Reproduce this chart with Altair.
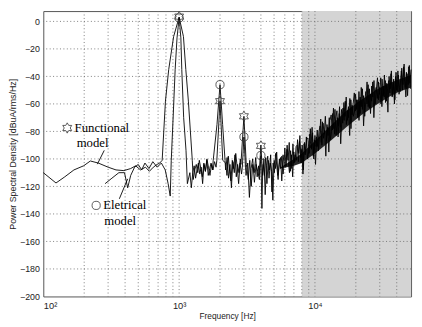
import altair as alt
import pandas as pd
import numpy as np

HEX = ("M0,-1L0.289,-0.5L0.866,-0.5L0.577,0L0.866,0.5L0.289,0.5L0,1L-0.289,0.5"
       "L-0.866,0.5L-0.577,0L-0.866,-0.5L-0.289,-0.5Z")

# ---------------- Functional model ----------------
func_low_f = [100, 124, 144, 168, 198, 222, 254, 300, 343, 392, 440, 478, 520, 565, 604,
              646, 688, 720, 750, 793, 838, 911, 1000, 1076, 1120, 1170, 1250]
func_low_v = [-110, -117.5, -113, -108, -105, -101.5, -103, -106, -108, -108.5, -107, -105,
              -108, -106, -109, -106, -104, -103, -101, -58, -35, -11, 3, -11, -35, -58, -101]
func_peak_f = [1895, 2000, 2094, 2850, 3000, 3120, 3880, 4000, 4120]
func_peak_v = [-101, -58, -101, -104, -69, -104, -112, -90, -112]
func_seg_ranges = [(1270, 1870), (2200, 2820), (3150, 3850), (4160, 5950), (6000, 51000)]
func_seg_vals = [
    [-115, -108, -104, -110, -101, -107, -113, -103, -109, -100, -106, -112, -104, -108, -102, -106],
    [-103, -112, -98, -109, -116, -101, -107, -97, -113, -104, -110, -100],
    [-106, -115, -101, -120, -104, -110, -99, -113, -105],
    [-104, -112, -99, -118, -101, -108, -97, -124, -103, -110, -96, -106, -115, -100, -107, -98, -111, -102],
    [-92, -105, -90, -102, -110, -94, -107, -89, -103, -97,
     -101, -86, -96, -83, -103, -90, -108, -88, -95, -85,
     -85, -96, -78, -93, -81, -100, -83, -91, -79, -94,
     -84, -71, -90, -74, -82, -69, -87, -77, -95, -72,
     -68, -79, -63, -82, -71, -65, -84, -67, -77, -64,
     -74, -59, -69, -55, -72, -62, -83, -57, -68, -60,
     -52, -65, -57, -70, -51, -67, -48, -64, -54, -69,
     -57, -44, -62, -49, -67, -47, -55, -43, -60, -50,
     -41, -57, -48, -60, -42, -54, -39, -59, -45, -66,
     -40, -49, -36, -54, -42, -57, -37, -51, -39, -48,
     -51, -34, -46, -31, -48, -37, -54, -33, -45, -35],
]

# ---------------- Electrical model ----------------
elec_low_f = [285, 320, 360, 396, 418, 440, 470, 500, 530, 560, 600, 640, 690, 740, 790,
              830, 860, 875, 905, 935, 965, 1000, 1030, 1046, 1080, 1124, 1150, 1200]
elec_low_v = [-118, -114, -110, -110, -121, -112, -106, -104, -108, -103, -107, -102, -106,
              -103, -108, -118, -127, -101, -68, -35, -12, 3, -12, -35, -70, -94, -118, -110]
elec_peak_f = [1782, 1900, 2000, 2090, 2178, 2920, 3000, 3080, 3930, 4000, 4070]
elec_peak_v = [-101, -75, -46, -75, -101, -106, -84, -106, -110, -98, -136]
elec_seg_ranges = [(1230, 1760), (2200, 2880), (3110, 3900), (4120, 5950), (6100, 50500)]
elec_seg_vals = [
    [-121, -110, -105, -114, -108, -103, -111, -106, -118, -104, -109, -101, -112, -107, -103, -108],
    [-108, -99, -114, -104, -121, -102, -110, -96, -106, -118, -103, -111],
    [-112, -103, -128, -107, -100, -117, -104, -109, -115],
    [-110, -100, -126, -105, -98, -114, -103, -109, -130, -101, -107, -95, -112, -104, -99, -116, -97, -105],
    [-106, -93, -101, -88, -109, -97, -113, -95, -102, -91,
     -90, -102, -87, -99, -93, -111, -89, -97, -84, -100,
     -95, -82, -92, -77, -98, -86, -104, -84, -91, -80,
     -76, -88, -73, -85, -79, -98, -75, -83, -70, -86,
     -80, -67, -78, -64, -83, -70, -76, -62, -89, -71,
     -63, -72, -58, -75, -65, -70, -56, -78, -61, -69,
     -66, -53, -64, -57, -72, -55, -62, -49, -76, -58,
     -51, -60, -46, -63, -53, -58, -44, -70, -52, -48,
     -56, -44, -53, -41, -62, -47, -55, -43, -58, -49,
     -43, -52, -38, -55, -45, -60, -40, -50, -36, -53,
     -47, -36, -50, -33, -44, -55, -38, -46, -32, -49],
]

# dense core of the noise band (where the two traces overlap into solid black)
core_f = [5600, 7000, 8000, 10000, 13000, 17000, 22000, 28000, 35000, 42000, 51000]
core_hi = [-106, -100, -96, -87, -76, -65, -57, -50, -45, -42, -39]
core_lo = [-107, -105, -103, -96, -87, -77, -68, -61, -55, -51, -48]

# markers at harmonics
star_f = [1000, 2000, 3000, 4000]
star_v = [3.5, -58, -69, -90.5]
circ_f = [1000, 2000, 3000, 4000]
circ_v = [2.5, -46, -84, -97.5]

# annotations
ann_text = ["Functional", "model", "Eletrical", "model"]
ann_f = [170, 176, 276, 281]
ann_v = [-77.5, -88.5, -133.8, -145]
ann_star_f, ann_star_v = [150], [-77.5]
ann_circ_f, ann_circ_v = [245], [-133.8]
ptr_f1 = [281, 363]
ptr_v1 = [-93.8, -129]
ptr_f2 = [250, 418]
ptr_v2 = [-103.8, -114.5]

# shaded band and grid
band_f1, band_f2 = [8000], [51000]
xgrid = [200, 300, 400, 500, 600, 700, 800, 900, 1000, 2000, 3000, 4000, 5000, 6000,
         7000, 8000, 9000, 10000, 20000, 30000, 40000]
ygrid = list(range(-180, 1, 20))
xticks = [100, 1000, 10000]


def build(name, lf, lv, pf, pv, ranges, vals):
    rows = [(name, f, v) for f, v in zip(lf, lv)]
    rows += [(name, f, v) for f, v in zip(pf, pv)]
    for (a, b), vs in zip(ranges, vals):
        grid = np.geomspace(a, b, len(vs))
        rows += [(name, float(f), v) for f, v in zip(grid, vs)]
    return rows


rows = build("Functional", func_low_f, func_low_v, func_peak_f, func_peak_v, func_seg_ranges, func_seg_vals)
rows += build("Electrical", elec_low_f, elec_low_v, elec_peak_f, elec_peak_v, elec_seg_ranges, elec_seg_vals)
lines_df = pd.DataFrame(rows, columns=["series", "f", "v"]).sort_values(["series", "f"])

W, H = 375, 291
xs = alt.Scale(type="log", domain=[100, 51000], nice=False)
ys = alt.Scale(domain=[-200, 7.5], nice=False)

xaxis = alt.Axis(values=xticks, grid=False, ticks=False, domain=False,
                 labelExpr="datum.value == 100 ? '10²' : datum.value == 1000 ? '10³' : '10⁴'",
                 labelFont="Liberation Sans", labelFontSize=9.5, labelColor="#222",
                 labelPadding=4, title="Frequency [Hz]", titleFont="Liberation Sans",
                 titleFontSize=8.5, titleFontWeight="normal", titleColor="#222",
                 titleBaseline="middle", titleY=19)
yaxis = alt.Axis(values=list(range(-200, 1, 20)), grid=False, ticks=False, domain=False,
                 labelFont="Liberation Sans", labelFontSize=9, labelColor="#222",
                 labelPadding=4, title="Power Spectral Density [dBuA/rms/Hz]",
                 titleFont="Liberation Sans", titleFontSize=9, titleFontWeight="normal",
                 titleColor="#222", titleX=-31, titleY=H / 2, titleAngle=-90,
                 titleAlign="center", titleBaseline="middle")

X = alt.X("f:Q", scale=xs, axis=xaxis)
Y = alt.Y("v:Q", scale=ys, axis=yaxis)

band = alt.Chart(pd.DataFrame({"f": band_f1, "f2": band_f2})).mark_rect(color="#d4d4d4").encode(
    x=X, x2="f2:Q", y=alt.value(0), y2=alt.value(H))

vgrid = alt.Chart(pd.DataFrame({"f": xgrid})).mark_rule(
    color="#6e6e6e", strokeDash=[1, 2.5], strokeWidth=0.9).encode(x=X)
hgrid = alt.Chart(pd.DataFrame({"v": ygrid})).mark_rule(
    color="#6e6e6e", strokeDash=[1, 2.5], strokeWidth=0.9).encode(y=Y)

core = alt.Chart(pd.DataFrame({"f": core_f, "v": core_hi, "v2": core_lo})).mark_area(
    color="#111", opacity=0.9).encode(x=X, y=Y, y2="v2:Q")

lines = alt.Chart(lines_df).mark_line(color="black", strokeWidth=0.9).encode(
    x=X, y=Y, detail="series:N", order="f:Q")

stars = alt.Chart(pd.DataFrame({"f": star_f + ann_star_f, "v": star_v + ann_star_v})).mark_point(
    shape=HEX, filled=False, color="#333", size=110, strokeWidth=0.8, opacity=1).encode(x=X, y=Y)
circs = alt.Chart(pd.DataFrame({"f": circ_f + ann_circ_f, "v": circ_v + ann_circ_v})).mark_point(
    shape="circle", filled=False, color="#333", size=70, strokeWidth=0.8, opacity=1).encode(x=X, y=Y)

texts = alt.Chart(pd.DataFrame({"f": ann_f, "v": ann_v, "t": ann_text})).mark_text(
    font="Liberation Serif", fontSize=13, align="left", baseline="middle", color="black").encode(
    x=X, y=Y, text="t:N")

ptrs = alt.Chart(pd.DataFrame({"f": ptr_f1, "v": ptr_v1, "f2": ptr_f2, "v2": ptr_v2})).mark_rule(
    color="black", strokeWidth=0.9).encode(x=X, y=Y, x2="f2:Q", y2="v2:Q")

chart = alt.layer(band, vgrid, hgrid, core, lines, stars, circs, texts, ptrs).properties(
    width=W, height=H,
    autosize=alt.AutoSizeParams(type="none"),
    padding={"left": 36, "top": 0, "right": 3, "bottom": 28},
    background="white",
).configure_view(stroke="#555", strokeWidth=1)

chart.save("out.html", embed_options={"renderer": "svg", "actions": False})
